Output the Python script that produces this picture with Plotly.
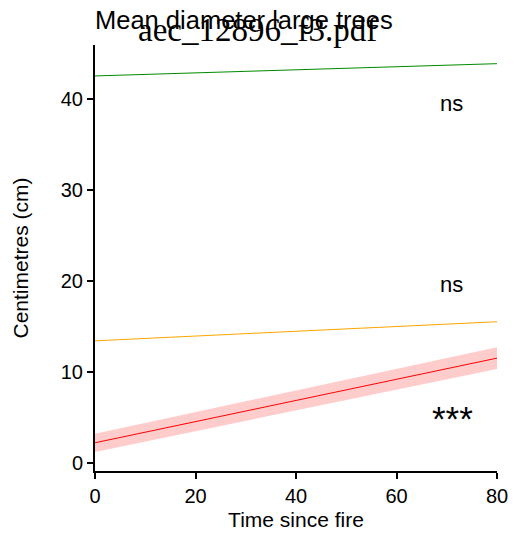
import plotly.graph_objects as go

time = [0, 80]
green_fit = [42.5, 43.85]
orange_fit = [13.4, 15.5]
red_fit = [2.2, 11.5]
red_lower = [1.2, 10.3]
red_upper = [3.2, 12.7]

labels = ["ns", "ns", "***"]
label_x = [71, 71, 71.2]
label_y = [39.5, 19.6, 4.9]
label_size = [22, 22, 35]

OFF = 8  # default body margin of the page
W, H = 518 - OFF, 538 - OFF

fig = go.Figure()
fig.add_trace(go.Scatter(x=time + time[::-1], y=red_upper + red_lower[::-1], fill="toself",
                         fillcolor="rgba(255,0,0,0.2)", line=dict(width=0), mode="lines",
                         hoverinfo="skip", showlegend=False))
fig.add_trace(go.Scatter(x=time, y=green_fit, mode="lines", line=dict(color="#008B00", width=1), showlegend=False))
fig.add_trace(go.Scatter(x=time, y=orange_fit, mode="lines", line=dict(color="#FFA500", width=1), showlegend=False))
fig.add_trace(go.Scatter(x=time, y=red_fit, mode="lines", line=dict(color="#FF0000", width=1), showlegend=False))

for t, xx, yy, sz in zip(labels, label_x, label_y, label_size):
    fig.add_annotation(x=xx, y=yy, text=t, showarrow=False,
                       font=dict(family="Liberation Sans, Arial", size=sz, color="black"))

fig.update_layout(
    width=W, height=H,
    margin=dict(l=95 - OFF, r=21, t=45 - OFF, b=67, autoexpand=False),
    plot_bgcolor="white", paper_bgcolor="white",
    font=dict(family="Liberation Sans, Arial", size=20, color="black"),
    title=dict(text="Mean diameter large trees", x=(95 - OFF) / W, xref="container", xanchor="left",
               y=1 - (20 - OFF) / H, yref="container", yanchor="middle",
               font=dict(size=25.5, family="Liberation Sans, Arial", color="black")),
    xaxis=dict(range=[0, 80], tickvals=[0, 20, 40, 60, 80], showgrid=False, zeroline=False,
               showline=True, linecolor="black", linewidth=2, ticks="outside", ticklen=6,
               tickwidth=2, tickcolor="black", tickfont=dict(size=20),
               title=dict(text="Time since fire", font=dict(size=21), standoff=6)),
    yaxis=dict(range=[-0.9, 45.9], tickvals=[0, 10, 20, 30, 40], showgrid=False, zeroline=False,
               showline=True, linecolor="black", linewidth=2, ticks="outside", ticklen=6,
               tickwidth=2, tickcolor="black", tickfont=dict(size=20),
               title=dict(text="Centimetres (cm)", font=dict(size=21), standoff=26)),
)

fig.add_annotation(x=(257 - 95) / 402, y=(471 - 30) / 426, xref="paper", yref="paper",
                   xanchor="center", yanchor="middle", text="aec_12896_f3.pdf", showarrow=False,
                   font=dict(family="Liberation Serif, Times New Roman", size=33, color="black"))

fig.write_html("out.html")
